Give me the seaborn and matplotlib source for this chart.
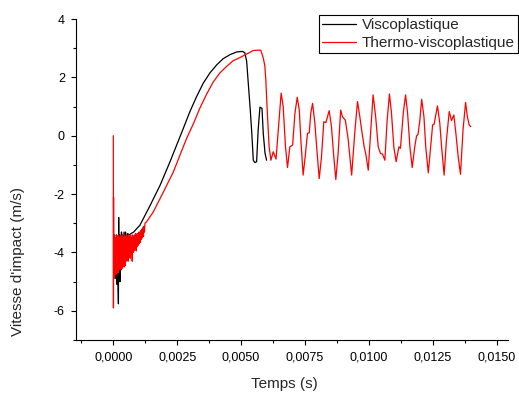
import numpy as np
import pandas as pd
import matplotlib
matplotlib.use("Agg")
import matplotlib.pyplot as plt
from matplotlib.ticker import MultipleLocator, FuncFormatter
import seaborn as sns

# ---- data (time in ms, impact velocity in m/s) ----
visco_t_ms = [0.05, 0.07, 0.09, 0.11, 0.13, 0.15, 0.17, 0.19, 0.20, 0.21, 0.22, 0.24,
              0.26, 0.28, 0.30, 0.32, 0.34, 0.36, 0.39, 0.42, 0.45, 0.48, 0.52, 0.56,
              0.62, 0.70, 0.80, 0.90, 1.04, 1.44, 1.83, 2.22, 2.48, 2.74, 3.00, 3.26,
              3.52, 3.78, 4.05, 4.30, 4.57, 4.83, 5.06, 5.15, 5.22, 5.30, 5.36, 5.42,
              5.48, 5.54, 5.61, 5.67, 5.74, 5.82, 5.87, 5.94, 6.00]
visco_v = [-3.4, -4.6, -3.5, -4.9, -3.4, -5.1, -3.5, -5.3, -5.76, -2.8, -4.9, -3.4,
           -5.0, -3.5, -4.6, -3.3, -4.3, -3.4, -4.0, -3.3, -3.8, -3.3, -3.6, -3.35,
           -3.4, -3.35, -3.3, -3.2, -3.07, -2.39, -1.70, -0.89, -0.32, 0.25, 0.83, 1.34,
           1.80, 2.15, 2.43, 2.64, 2.78, 2.87, 2.89, 2.84, 2.55, 1.6, 0.9, 0.1,
           -0.84, -0.92, -0.89, 0.2, 0.98, 0.94, 0.08, -0.61, -0.84]

thermo_t_ms = [0.000, 0.005, 0.010,
               0.02, 0.04, 0.06, 0.08, 0.10, 0.12, 0.14, 0.16, 0.18, 0.20,
               0.22, 0.24, 0.26, 0.28, 0.30, 0.32, 0.34, 0.36, 0.38, 0.40,
               0.42, 0.44, 0.46, 0.48, 0.50, 0.52, 0.54, 0.56, 0.58, 0.60,
               0.62, 0.64, 0.66, 0.68, 0.70, 0.72, 0.74, 0.76, 0.78, 0.80,
               0.82, 0.84, 0.86, 0.88, 0.90, 0.92, 0.94, 0.96, 0.98, 1.00,
               1.02, 1.04, 1.06, 1.08, 1.10, 1.12, 1.14, 1.16, 1.18, 1.20,
               1.22, 1.24, 1.30,
               1.56, 1.96, 2.35, 2.61, 2.87, 3.13, 3.39, 3.65, 3.91, 4.17,
               4.44, 4.69, 4.96, 5.22, 5.48, 5.60, 5.77, 5.84, 5.88, 5.93,
               5.97, 6.03, 6.10, 6.17, 6.26, 6.37, 6.46, 6.57, 6.65, 6.74,
               6.82, 6.91, 7.02, 7.11, 7.20, 7.28, 7.34, 7.43, 7.51, 7.60,
               7.67, 7.73, 7.80, 7.89, 7.98, 8.06, 8.15, 8.24, 8.32, 8.45,
               8.54, 8.63, 8.71, 8.80, 8.90, 8.97, 9.08, 9.19, 9.33, 9.46,
               9.56, 9.65, 9.74, 9.82, 9.89, 9.98, 10.07, 10.17, 10.27, 10.37,
               10.46, 10.54, 10.63, 10.72, 10.81, 10.89, 10.98, 11.07, 11.18, 11.24,
               11.35, 11.44, 11.52, 11.61, 11.70, 11.80, 11.87, 11.93, 12.00, 12.07,
               12.16, 12.23, 12.33, 12.42, 12.50, 12.56, 12.61, 12.69, 12.78, 12.85,
               12.95, 13.04, 13.15, 13.24, 13.33, 13.41, 13.50, 13.59, 13.69, 13.79,
               13.86, 13.93, 13.99]
thermo_v = [0.0, -5.9, -2.1,
            -4.9, -3.4, -4.7, -3.5, -4.75, -3.4, -4.6, -3.45, -4.7, -3.4,
            -4.55, -3.5, -4.6, -3.4, -4.4, -3.45, -4.55, -3.4, -4.35, -3.5,
            -4.5, -3.4, -4.45, -3.45, -4.3, -3.4, -4.25, -3.5, -4.3, -3.4,
            -4.15, -3.45, -4.2, -3.4, -4.05, -3.5, -4.3, -3.4, -4.0, -3.45,
            -3.95, -3.4, -3.9, -3.35, -3.95, -3.4, -3.8, -3.35, -3.75, -3.3,
            -3.7, -3.3, -3.65, -3.25, -3.55, -3.2, -3.5, -3.15, -3.45, -3.1,
            -3.3, -3.0, -2.95,
            -2.62, -1.93, -1.24, -0.66, -0.09, 0.40, 0.95, 1.42, 1.84, 2.15,
            2.38, 2.57, 2.68, 2.80, 2.92, 2.93, 2.93, 2.75, 2.62, 2.40,
            1.92, 0.77, -0.38, -0.84, -0.55, -0.80, 0.20, 1.46, 1.00, -0.38,
            -1.09, -0.38, -0.32, 0.77, 1.32, 0.88, -0.12, -1.35, -0.72, 0.08,
            0.10, 0.77, 1.11, 0.43, -0.61, -1.47, -0.72, 0.48, 0.45, 0.86,
            0.31, -0.72, -1.50, -0.61, 0.88, 0.65, 0.54, -0.09, -1.35, 0.20,
            1.17, 0.65, 0.08, -0.38, -0.66, -1.18, 0.08, 1.40, 0.65, -0.38,
            -0.61, -0.63, -0.84, 0.54, 1.43, 0.77, -0.38, -0.89, -0.38, -0.43,
            0.77, 1.40, 0.77, -0.38, -1.09, -0.38, -0.01, 0.05, 0.54, 1.25,
            0.65, -0.38, -1.27, -0.38, 0.37, 0.40, 0.65, 1.02, 0.43, -0.38,
            -1.35, -0.15, 0.83, 0.52, 0.71, 0.08, -0.72, -1.32, 0.20, 1.14,
            0.65, 0.37, 0.31]

labels = ["Viscoplastique", "Thermo-viscoplastique"]
x_ticks = [0.0, 0.0025, 0.005, 0.0075, 0.01, 0.0125, 0.015]
y_ticks = [-6, -4, -2, 0, 2, 4]

df_visco = pd.DataFrame({"t": np.array(visco_t_ms) / 1000.0, "v": visco_v})
df_thermo = pd.DataFrame({"t": np.array(thermo_t_ms) / 1000.0, "v": thermo_v})

sns.set_style("ticks")
plt.rcParams["font.family"] = ["Liberation Sans", "DejaVu Sans"]
plt.rcParams["axes.unicode_minus"] = False

fig = plt.figure(figsize=(5.19, 3.98), dpi=100)
ax = fig.add_axes([75.5 / 519, 58 / 398, 432.5 / 519, 321 / 398])

sns.lineplot(data=df_visco, x="t", y="v", ax=ax, color="black", lw=0.9,
             estimator=None, sort=False, label=labels[0])
sns.lineplot(data=df_thermo, x="t", y="v", ax=ax, color="red", lw=0.9,
             estimator=None, sort=False, label=labels[1])

ax.set_xlim(-0.00148, 0.01545)
ax.set_ylim(-7, 4)
ax.set_xticks(x_ticks)
ax.set_yticks(y_ticks)
ax.xaxis.set_minor_locator(MultipleLocator(0.00125))
ax.yaxis.set_minor_locator(MultipleLocator(1))
ax.xaxis.set_major_formatter(FuncFormatter(lambda v, p: f"{v:.4f}".replace(".", ",")))
ax.yaxis.set_major_formatter(FuncFormatter(lambda v, p: f"{v:.0f}"))

for s in ["top", "right"]:
    ax.spines[s].set_visible(False)
for s in ["left", "bottom"]:
    ax.spines[s].set_linewidth(0.8)
    ax.spines[s].set_color("black")

ax.tick_params(which="major", direction="out", length=3.6, width=0.8,
               labelsize=9, colors="black")
ax.tick_params(which="minor", direction="out", length=2.2, width=0.8, colors="black")
ax.tick_params(axis="x", pad=5)
ax.tick_params(axis="y", pad=4)

ax.set_xlabel("Temps (s)", fontsize=11)
ax.set_ylabel("Vitesse d'impact (m/s)", fontsize=11)
ax.xaxis.set_label_coords((284 - 75.5) / 432.5, -(384 - 340) / 321, transform=ax.transAxes)
ax.yaxis.set_label_coords(-(75.5 - 18) / 432.5, (340 - 262) / 321, transform=ax.transAxes)
ax.xaxis.label.set_va("center")
ax.yaxis.label.set_va("center")

leg = ax.legend(loc="upper left", bbox_to_anchor=(319 / 519, 1 - 15 / 398),
                bbox_transform=fig.transFigure, borderaxespad=0, fontsize=11,
                frameon=True, fancybox=False, framealpha=1, edgecolor="black",
                handlelength=2.2, handletextpad=0.4, labelspacing=0.25,
                borderpad=0.2)
leg.get_frame().set_linewidth(0.8)

fig.savefig("out.png", dpi=100)
